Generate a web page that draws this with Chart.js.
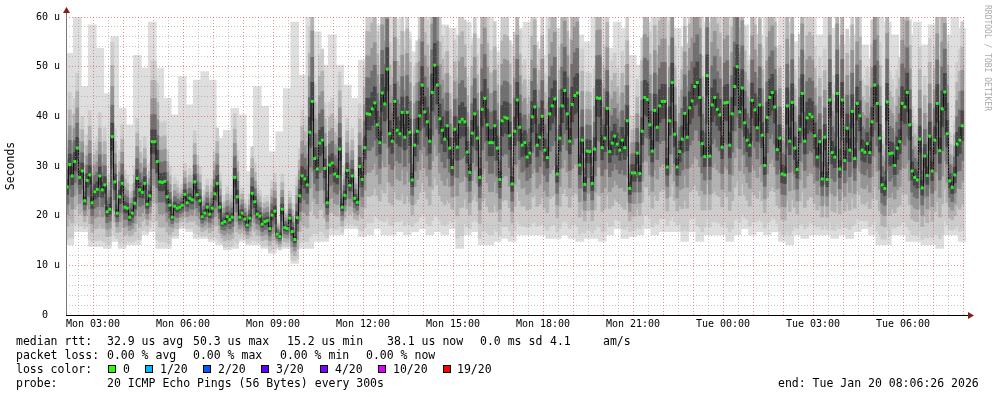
<!DOCTYPE html>
<html>
<head>
<meta charset="utf-8">
<title>smokeping</title>
<script src="https://cdn.jsdelivr.net/npm/chart.js@4.4.1/dist/chart.umd.min.js"></script>
<style>
body { margin: 0; background: #fff; }
#wrap { position: relative; width: 997px; height: 397px; overflow: hidden; }
#chart { position: absolute; left: 0; top: 0; }
.t { position: absolute; font-family: 'DejaVu Sans Mono', monospace; font-size: 11.5px; line-height: 14px; color: #000; white-space: pre; }
.box { position: absolute; top: 365px; width: 6px; height: 6px; border: 1px solid #000; }
#wm { position: absolute; left: 992px; top: 5px; font-family: 'DejaVu Sans Mono', monospace; font-size: 8px; line-height: 10px; color: #aaa; transform-origin: 0 0; transform: rotate(90deg); white-space: pre; }
</style>
</head>
<body>
<div id="wrap">
<canvas id="chart" width="997" height="397"></canvas>
<div id="wm">RRDTOOL / TOBI OETIKER</div>

<div class="t" style="top:334px;left:16px">median rtt:</div>
<div class="t" style="top:334px;left:107px">32.9 us avg</div>
<div class="t" style="top:334px;left:193px">50.3 us max</div>
<div class="t" style="top:334px;left:287px">15.2 us min</div>
<div class="t" style="top:334px;left:387px">38.1 us now</div>
<div class="t" style="top:334px;left:480px">0.0 ms sd</div>
<div class="t" style="top:334px;left:550px">4.1</div>
<div class="t" style="top:334px;left:603px">am/s</div>

<div class="t" style="top:348px;left:16px">packet loss:</div>
<div class="t" style="top:348px;left:107px">0.00 % avg</div>
<div class="t" style="top:348px;left:193px">0.00 % max</div>
<div class="t" style="top:348px;left:280px">0.00 % min</div>
<div class="t" style="top:348px;left:366px">0.00 % now</div>

<div class="t" style="top:362px;left:16px">loss color:</div>
<div class="box" style="left:108px;background:#26ff00"></div><div class="t" style="top:362px;left:123px">0</div>
<div class="box" style="left:145px;background:#00b8ff"></div><div class="t" style="top:362px;left:160px">1/20</div>
<div class="box" style="left:203px;background:#0059ff"></div><div class="t" style="top:362px;left:218px">2/20</div>
<div class="box" style="left:261px;background:#5e00ff"></div><div class="t" style="top:362px;left:276px">3/20</div>
<div class="box" style="left:320px;background:#7e00ff"></div><div class="t" style="top:362px;left:335px">4/20</div>
<div class="box" style="left:378px;background:#dd00ff"></div><div class="t" style="top:362px;left:393px">10/20</div>
<div class="box" style="left:443px;background:#ff0000"></div><div class="t" style="top:362px;left:457px">19/20</div>

<div class="t" style="top:376px;left:16px">probe:</div>
<div class="t" style="top:376px;left:107px">20 ICMP Echo Pings (56 Bytes) every 300s</div>
<div class="t" style="top:376px;left:778px">end: Tue Jan 20 08:06:26 2026</div>
</div>

<script>
// x axis in minutes from Mon 02:06:26, one sample every 5 minutes
var xLabels = ['Mon 03:00', 'Mon 06:00', 'Mon 09:00', 'Mon 12:00', 'Mon 15:00',
	'Mon 18:00', 'Mon 21:00', 'Tue 00:00', 'Tue 03:00', 'Tue 06:00'];

// median rtt (us), 359 samples
var median = [
	25.8, 30.3, 28, 30.9, 33.6, 27.7, 29, 23, 27.1, 28.2,
	22.6, 24.8, 25.3, 28, 25.2, 26.2, 20.8, 21.3, 35.9, 26.8,
	20.5, 23.8, 26.5, 21.7, 21.5, 19.7, 20.5, 22.5, 27.5, 25.2,
	24.7, 26.5, 22.3, 24, 34.9, 34.9, 30.9, 26.8, 26.7, 26.9,
	23.8, 22.1, 19.7, 21.9, 21.5, 21.7, 22.1, 24.3, 22.6, 23.5,
	23.2, 26.8, 24.2, 23, 19.8, 20.5, 21.7, 20.3, 21.5, 24.4,
	26.5, 21.7, 18.5, 18.8, 19.8, 19.2, 19.7, 27.7, 23.8, 19.7,
	20.5, 19.3, 18.1,
	19.5, 24.5, 22.8, 20.3, 19.9, 18.3, 18.8, 19, 17.4, 20.1,
	20.9, 16.3, 15.8, 21.3, 17.6, 17.4, 19.5, 16.8, 15.2, 19.6,
	24, 28, 27.4, 26.2, 36.8, 43, 31.5, 29.4, 34.6, 35.2,
	29.5, 22.6, 30.2, 30.6, 28.4, 27.9, 33.4, 21.7, 24.1, 29.1,
	26.1, 28, 23.5, 22.7, 29.9, 27.3, 33.7, 40.5, 40.4, 41.5,
	42.7, 38.3, 34.7, 44.7, 42.5, 49.5, 36.5, 35, 43, 37.2,
	36.5, 40.8, 35.8, 40.8, 36.8, 27.2, 34.2, 37, 40.1, 46.3,
	40.9, 38.9,
	35, 44.8, 50.3, 46.3, 39.5, 37.2, 35.4, 38.1, 33.6, 29.7,
	37.4, 33.8, 38.9, 39.4, 38.9, 32.8, 28.7, 36.6, 40.5, 35.6,
	27.7, 41.4, 43.6, 38.3, 34.7, 34.7, 38.1, 33.6, 27.3, 39.1,
	39.8, 39.6, 36.1, 26.4, 37, 43.3, 37.8, 34.2, 34.7, 31.8,
	32.6, 39.9, 41.9, 34.2, 35.8, 40, 33.2, 31.7, 40.5, 42.1,
	43.5, 28.4, 35.6, 42.1, 45.2, 40.5, 35, 42.4, 44.2, 44.7,
	30.2, 35.2, 26.3, 33, 32.9, 26.5, 33.4, 43.7, 43.6, 33.7,
	35.6, 41.6,
	32.9, 34.6, 36, 34.4, 33.2, 35.2, 33.7, 39.1, 25.5, 28.6,
	28.6, 32.6, 28.5, 37, 43.8, 43.4, 38.3, 33, 41.2, 37.8,
	42.1, 43, 43, 29.8, 39.1, 46.8, 36.4, 29.8, 32.9, 35.4,
	40.6, 35.8, 41.7, 43.1, 46, 46.8, 43.8, 34.5, 31.9, 48.2,
	32, 42.3, 43.8, 41.4, 40.3, 33.8, 42.7, 42.8, 34.2, 40.5,
	46, 50, 40.9, 45.7, 38.7, 35.2, 34.2, 43.2, 41.3, 37.7,
	42.3, 36.2, 30.1, 39.8, 43.8, 44.8, 41.9, 33.3, 35.6, 28.4,
	28.2, 42.1,
	35, 42.8, 33.6, 29.3, 37.4, 44.6, 35, 39.7, 40.4, 39.9,
	36.1, 31.8, 34.9, 27.4, 35.8, 27.3, 43.3, 32.7, 31.8, 44.6,
	29.4, 43.3, 31.1, 37.6, 33.2, 41, 31.5, 42.6, 40.1, 33.2,
	32.8, 34.5, 32.7, 38.9, 46.3, 42.6, 35.6, 26.2, 25.5, 42.9,
	32.5, 32.6, 30.1, 33.6, 34.9, 42.6, 41.9, 44.8, 38.3, 29,
	27.7, 27.2, 35.4, 25.6, 32, 28.1, 36, 29, 35.2, 42.6,
	33.1, 41.5, 44.9, 36.5, 27, 25.7, 28.2, 34.4, 35.2, 38.1
];

// smoke extent (fastest / slowest ping), one value per 15 minutes
var smokeLo = [
	14.1, 16.8, 16.8, 13.8, 13.8, 13.4, 14.8, 13.4, 14.1, 14.1, 16.1, 16.8,
	13.4, 13.4, 15.4, 17.4, 16.8, 15.4, 15.4, 14.8, 14.1, 13.1, 13.4, 14.8,
	14.1, 14.1, 13.4, 12.4, 13.4, 13.4, 10.4, 13.4, 13.4, 14.8, 14.8, 16.1,
	16.1, 17.4, 17.4, 15.8, 16.1, 17.4, 16.1, 16.1, 16.8, 16.1, 16.8, 17.4,
	16.1, 16.8, 16.1, 17.4, 13.4, 16.1, 16.8, 14.1, 14.1, 14.8, 15.4, 14.8,
	16.1, 16.1, 16.1, 16.1, 15.4, 15.4, 16.1, 15.4, 14.8, 15.4, 15.4, 14.8,
	16.1, 17.4, 15.4, 15.8, 16.1, 17.4, 16.1, 16.8, 16.8, 16.8, 14.8, 16.8,
	14.8, 16.1, 16.1, 16.1, 14.8, 16.1, 17.4, 16.1, 16.8, 16.1, 16.8, 14.8,
	14.1, 16.1, 15.4, 16.1, 16.1, 16.1, 15.4, 16.1, 15.4, 16.8, 17.4, 16.1,
	14.1, 14.1, 16.1, 16.1, 14.8, 14.8, 14.1, 14.1, 13.4, 16.1, 16.1, 14.8
];
var smokeHi = [
	52.7, 60, 46, 58.4, 53.7, 44.6, 56, 41.6, 38.3, 52.3, 49.7, 59,
	49.7, 43.6, 40.3, 48, 42.3, 47.3, 49, 47.3, 35.6, 37.2, 41.6, 40.3,
	28.9, 46, 42, 32.9, 36.9, 45.6, 59, 48.3, 60, 57, 50.3, 56.4,
	50.3, 46.3, 43.6, 51.3, 56, 58.4, 56.4, 60, 59.7, 57, 53, 60,
	60, 58.4, 58.4, 57.7, 56.4, 59, 55.7, 55.7, 60, 53, 57, 54.4,
	57.7, 59, 55, 52.3, 60, 57.7, 53, 55.7, 56.4, 55, 60, 60,
	53.7, 59, 57.7, 52.3, 50.3, 59, 60, 56.4, 60, 57.7, 53.7, 60,
	60, 59, 57, 60, 60, 56.4, 58.4, 52.3, 56.4, 60, 53.7, 60,
	59, 55, 60, 60, 56.4, 60, 57.7, 54.4, 55.7, 56.4, 54.4, 51.7,
	60, 59, 56.4, 51.7, 56.4, 59, 54.4, 58.4, 60, 56.4, 60, 57.7
];

var STEP = 5, BIN = 15;
var gridRed = 'rgba(230, 50, 50, 0.55)';
var gridGray = 'rgba(140, 140, 140, 0.5)';
var mono = 'DejaVu Sans Mono';

// smoke layers, outer to inner
var layerFrac = [0.9, 0.68, 0.48, 0.3, 0.13];
var layerColor = ['#cdcdcd', '#b3b3b3', '#959595', '#707070', '#484848'];

var datasets = [];

datasets.push({
	type: 'bar',
	data: smokeLo.map(function(lo, b) { return {x: b * BIN + BIN / 2, y: [lo, smokeHi[b]]}; }),
	backgroundColor: '#dedede',
	borderWidth: 0,
	barThickness: 8,
	grouped: false,
	order: 10
});

layerFrac.forEach(function(f, k) {
	datasets.push({
		type: 'bar',
		data: median.map(function(v, i) {
			var d = Math.max(v - smokeLo[Math.floor(i / 3)], 3);
			return {x: i * STEP + STEP / 2, y: [v - d * f, Math.min(v + d * f, 60)]};
		}),
		backgroundColor: layerColor[k],
		borderWidth: 0,
		barThickness: 3,
		grouped: false,
		order: 9 - k
	});
});

datasets.push({
	type: 'line',
	data: median.map(function(v, i) { return {x: i * STEP + STEP / 2, y: v}; }),
	stepped: 'middle',
	borderColor: '#111111',
	borderWidth: 1,
	pointStyle: 'rect',
	pointRadius: 2.1,
	pointBorderWidth: 0,
	pointBackgroundColor: '#26f026',
	order: 0
});

var axesPlugin = {
	id: 'axes',
	afterDraw: function(chart) {
		var ctx = chart.ctx, a = chart.chartArea;
		ctx.save();
		ctx.fillStyle = '#777777';
		ctx.fillRect(a.left, 10, 1, a.bottom - 10);
		ctx.fillStyle = '#000000';
		ctx.fillRect(a.left, a.bottom, a.right - a.left + 3, 1);
		ctx.fillStyle = '#8b1a1a';
		ctx.beginPath();
		ctx.moveTo(a.left - 3, 13); ctx.lineTo(a.left + 4, 13); ctx.lineTo(a.left + 0.5, 7);
		ctx.fill();
		ctx.beginPath();
		ctx.moveTo(a.right + 2, a.bottom - 3); ctx.lineTo(a.right + 2, a.bottom + 4); ctx.lineTo(a.right + 8, a.bottom + 0.5);
		ctx.fill();
		ctx.restore();
	}
};

new Chart(document.getElementById('chart'), {
	type: 'bar',
	data: {datasets: datasets},
	options: {
		responsive: false,
		animation: false,
		events: [],
		layout: {padding: {left: 0, top: 17, right: 31, bottom: 62}},
		plugins: {legend: {display: false}, tooltip: {enabled: false}},
		scales: {
			x: {
				type: 'linear',
				min: 0,
				max: 1800,
				offset: false,
				afterBuildTicks: function(ax) {
					var t = [];
					for (var v = 24; v <= 1800; v += 30) t.push({value: v});
					ax.ticks = t;
				},
				afterFit: function(ax) { ax.height = 20; },
				grid: {
					z: 1,
					offset: false,
					drawTicks: false,
					lineWidth: 1,
					color: function(c) {
						return c.tick && (c.tick.value - 54) % 60 === 0 ? gridRed : gridGray;
					}
				},
				border: {display: false, dash: [1, 2]},
				ticks: {
					autoSkip: false,
					maxRotation: 0,
					padding: 3,
					color: '#000',
					font: {family: mono, size: 10},
					callback: function(v) {
						return (v - 54) % 180 === 0 ? (xLabels[(v - 54) / 180] || '') : '';
					}
				}
			},
			y: {
				min: 0,
				max: 60,
				afterBuildTicks: function(ax) {
					var t = [];
					for (var v = 0; v <= 60; v += 2) t.push({value: v});
					ax.ticks = t;
				},
				afterFit: function(ax) { ax.width = 66; },
				grid: {
					z: 1,
					drawTicks: false,
					lineWidth: 1,
					color: function(c) {
						return c.tick && c.tick.value % 10 === 0 ? gridRed : gridGray;
					}
				},
				border: {display: false, dash: [1, 2]},
				title: {
					display: true,
					text: 'Seconds',
					color: '#000',
					font: {family: mono, size: 11.5},
					padding: {top: 4, bottom: 0}
				},
				ticks: {
					autoSkip: false,
					padding: 6,
					color: '#000',
					font: {family: mono, size: 10},
					callback: function(v) {
						if (v % 10 !== 0) return '';
						return v === 0 ? '0  ' : v + ' u';
					}
				}
			}
		}
	},
	plugins: [axesPlugin]
});
</script>
</body>
</html>
